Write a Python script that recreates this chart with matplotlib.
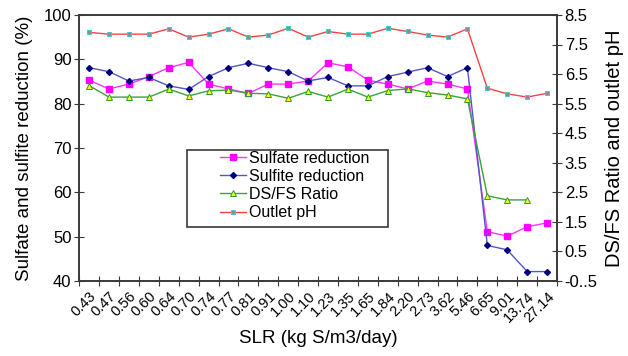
"""
Sulfate / sulfite reduction, DS/FS ratio and outlet pH versus SLR.
"""
import numpy as np
import matplotlib

matplotlib.use('agg')
import matplotlib.pyplot as plt
from matplotlib.patches import Rectangle

plt.rcParams['font.family'] = ['Liberation Sans', 'DejaVu Sans']

slr_labels = ['0.43', '0.47', '0.56', '0.60', '0.64', '0.70', '0.74', '0.77',
              '0.81', '0.91', '1.00', '1.10', '1.23', '1.35', '1.65', '1.84',
              '2.20', '2.73', '3.62', '5.46', '6.65', '9.01', '13.74', '27.14']

sulfate_reduction = [85.3, 83.3, 84.4, 86.1, 88.1, 89.3, 84.4, 83.3, 82.3, 84.4,
                     84.4, 85.1, 89.2, 88.3, 85.3, 84.4, 83.3, 85.1, 84.4, 83.3,
                     51.1, 50.1, 52.2, 53.1]
sulfite_reduction = [88.1, 87.2, 85.1, 85.9, 84.0, 83.2, 86.1, 88.1, 89.1, 88.1,
                     87.2, 85.1, 85.9, 84.0, 84.0, 86.1, 87.1, 88.1, 86.1, 88.1,
                     48.0, 47.0, 42.1, 42.1]
dsfs_ratio = [6.11, 5.72, 5.72, 5.72, 5.99, 5.76, 5.93, 5.96, 5.85, 5.83,
              5.68, 5.91, 5.72, 5.99, 5.72, 5.94, 6.00, 5.87, 5.79, 5.66,
              2.38, 2.24, 2.24, np.nan]
outlet_ph = [7.91, 7.85, 7.85, 7.85, 8.03, 7.75, 7.85, 8.03, 7.75, 7.82,
             8.05, 7.75, 7.94, 7.85, 7.85, 8.05, 7.94, 7.82, 7.75, 8.03,
             6.02, 5.83, 5.72, 5.85]

left_ticks = [40, 50, 60, 70, 80, 90, 100]
right_ticks = [8.5, 7.5, 6.5, 5.5, 4.5, 3.5, 2.5, 1.5, 0.5, -0.5]
right_tick_labels = ['8.5', '7.5', '6.5', '5.5', '4.5', '3.5', '2.5', '1.5',
                     '0.5', '-0..5']

axis_color = '#3a3a3a'
x = np.arange(len(slr_labels))

fig = plt.figure(figsize=(6.28, 3.56), dpi=100)
ax = fig.add_axes([0.126, 0.211, 0.761, 0.747])
ax2 = ax.twinx()

l1, = ax.plot(x, sulfate_reduction, color='#ff33ff', lw=1.0, marker='s',
              ms=4, mfc='#ff00ff', mec='#ff00ff', label='Sulfate reduction')
l2, = ax.plot(x, sulfite_reduction, color='#5555c8', lw=1.0, marker='D',
              ms=3, mfc='#000080', mec='#000080', label='Sulfite reduction')
l3, = ax2.plot(x, dsfs_ratio, color='#3aa33a', lw=1.0, marker='^',
               ms=4, mfc='#ffff00', mec='#339933', mew=0.7,
               label='DS/FS Ratio')
l4, = ax2.plot(x, outlet_ph, color='#ff4040', lw=1.0, marker='s',
               ms=3.5, mfc='#8c8c8c', mec='#40cccc', mew=0.7,
               label='Outlet pH')

ax.set_xlim(-0.5, len(slr_labels) - 0.5)
ax.set_ylim(40, 100)
ax2.set_ylim(-0.5, 8.5)

# category axis: tick marks between categories, labels at the centres
ax.set_xticks(np.arange(-0.5, len(slr_labels), 1))
ax.set_xticklabels([])
ax.set_xticks(x, minor=True)
ax.set_xticklabels(slr_labels, minor=True, rotation=45, ha='right',
                   rotation_mode='anchor', fontsize=10.5)
ax.tick_params(axis='x', which='minor', length=0, pad=6)
ax.tick_params(axis='x', which='major', direction='inout', length=7,
               color=axis_color)

ax.set_yticks(left_ticks)
ax.set_yticklabels([str(t) for t in left_ticks])
ax.tick_params(axis='y', direction='inout', length=7, labelsize=12,
               color=axis_color, pad=2)
ax2.set_yticks(right_ticks)
ax2.set_yticklabels(right_tick_labels)
ax2.tick_params(axis='y', direction='inout', length=7, labelsize=12,
                color=axis_color, pad=2)

for a in (ax, ax2):
    for spine in a.spines.values():
        spine.set_color(axis_color)
        spine.set_linewidth(1.2)

ax.set_xlabel('SLR (kg S/m3/day)', fontsize=13.5, labelpad=4)
ax.set_ylabel('Sulfate and sulfite reduction (%)', fontsize=13.5, labelpad=8)
ax2.set_ylabel('DS/FS Ratio and outlet pH', fontsize=14.5, labelpad=5)

box = Rectangle((0.225, 0.203), 0.421, 0.289, transform=ax2.transAxes,
                facecolor='white', edgecolor=axis_color, lw=1.2, zorder=5)
ax2.add_patch(box)
leg = ax2.legend(handles=[l1, l2, l3, l4], loc='upper left',
                 bbox_to_anchor=(0.295, 0.49), frameon=False, fontsize=11.5,
                 handlelength=1.6, handletextpad=0.2, labelspacing=0.2,
                 borderpad=0, borderaxespad=0)
leg.set_zorder(6)

plt.savefig('out.png', dpi=100)
plt.close()
